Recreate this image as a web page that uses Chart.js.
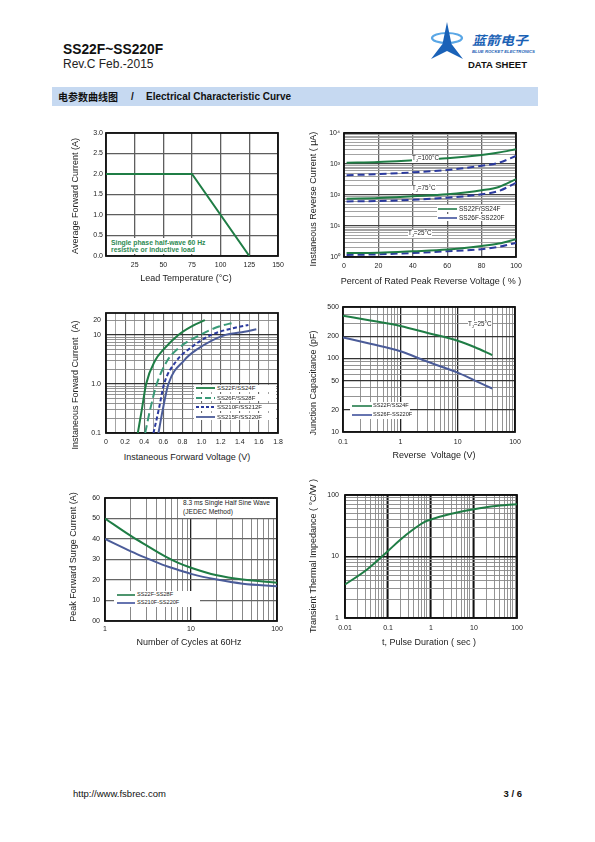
<!DOCTYPE html>
<html>
<head>
<meta charset="utf-8">
<script src="https://cdn.jsdelivr.net/npm/chart.js@4.4.1/dist/chart.umd.min.js"></script>
<style>
  html, body { margin: 0; padding: 0; background: #fff; }
  #page { position: relative; width: 595px; height: 842px; overflow: hidden;
          font-family: "Liberation Sans", Arial, sans-serif; color: #222; }
  .t { position: absolute; white-space: nowrap; line-height: 1; }
  canvas, svg.ov, .box { position: absolute; }
</style>
</head>
<body>
<div id="page"></div>
<script>
// ---- Fig.1 forward current derating
const leadTemp = [0, 75, 125];
const avgCurrent = [2.0, 2.0, 0];
const f1XTicks = [25, 50, 75, 100, 125, 150];
const f1YTicks = [0, 0.5, 1, 1.5, 2, 2.5, 3];
const f1YText = ["0.0", "0.5", "1.0", "1.5", "2.0", "2.5", "3.0"];

// ---- Fig.2 reverse leakage, % of rated voltage
const revPct = [1.5, 20, 40, 60, 80, 90, 100];
const ir100Low = [1100, 1160, 1320, 1530, 1960, 2340, 3000]; // SS22F/SS24F
const ir100High = [437, 470, 537, 638, 880, 1100, 1820]; // SS26F-SS220F
const ir75Low = [76, 80, 91, 105, 142, 182, 324];
const ir75High = [62, 64, 70, 82, 105, 135, 246];
const ir25Low = [1.35, 1.38, 1.53, 1.74, 2.28, 2.72, 3.77];
const ir25High = [1.16, 1.22, 1.35, 1.53, 1.78, 2.12, 2.86];
const f2XTicks = [0, 20, 40, 60, 80, 100];
const f2YTicks = [1, 10, 100, 1000, 10000];
const f2YText = ["10\u2070", "10\u00b9", "10\u00b2", "10\u00b3", "10\u2074"];

// ---- Fig.3 forward characteristics
const vfA = [0.333, 0.375, 0.42, 0.514, 0.6, 0.757, 0.896, 1.035];
const ifA = [0.1, 0.3, 1, 3, 5, 10, 15, 20];
const vfB = [0.41, 0.462, 0.531, 0.642, 0.74, 0.983, 1.19, 1.33];
const ifB = [0.1, 0.3, 1, 3, 5, 10, 15, 17.7];
const vfC = [0.497, 0.552, 0.608, 0.74, 0.86, 1.1, 1.35, 1.49];
const ifC = [0.1, 0.3, 1, 3, 5, 10, 14, 16];
const vfD = [0.549, 0.594, 0.653, 0.816, 0.948, 1.25, 1.4, 1.573];
const ifD = [0.1, 0.3, 1, 3, 5, 10, 11.2, 13];
const f3XTicks = [0, 0.2, 0.4, 0.6, 0.8, 1.0, 1.2, 1.4, 1.6, 1.8];
const f3XText = ["0", "0.2", "0.4", "0.6", "0.8", "1.0", "1.2", "1.4", "1.6", "1.8"];
const f3YTicks = [0.1, 1, 10, 20];
const f3YText = ["0.1", "1.0", "10", "20"];

// ---- Fig.4 junction capacitance
const vr = [0.1, 0.3, 1, 3, 10, 20, 40];
const cjLow = [380, 328, 276, 222, 174, 142, 111];
const cjHigh = [193, 158, 125, 90, 64, 50, 39];
const f4XTicks = [0.1, 1, 10, 100];
const f4YTicks = [10, 20, 50, 100, 200, 500];

// ---- Fig.5 surge current
const cycles = [1, 2, 3, 5, 7, 10, 20, 40, 100];
const ifsmLow = [50, 41.5, 37, 31.5, 28.5, 26, 22.3, 20.2, 18.7];
const ifsmHigh = [40, 34, 30.8, 27, 25, 23, 20.2, 18.2, 17];
const f5XTicks = [1, 10, 100];
const f5YTicks = [0, 10, 20, 30, 40, 50, 60];
const f5YText = ["00", "10", "20", "30", "40", "50", "60"];

// ---- Fig.6 transient thermal impedance
const pulse = [0.01, 0.032, 0.1, 0.19, 0.39, 0.68, 1, 2.8, 10, 28, 100];
const zth = [3.5, 6.1, 12.3, 18.6, 27.7, 36, 40, 49, 58.6, 65.6, 71];
const f6XTicks = [0.01, 0.1, 1, 10, 100];
const f6YTicks = [1, 10, 100];

const FONT = '"Liberation Sans", Arial, sans-serif';
const CJK = '"Noto Sans CJK SC", "Liberation Sans", sans-serif';
const GREEN = "#1f7d45";
const GREEN2 = "#3a9a78";
const BLUE = "#4b5c99";
const BLUE2 = "#2b3a9e";
const page = document.getElementById("page");
Chart.defaults.font.family = FONT;

function near(a, b) {
  return Math.abs(a - b) <= 1e-9 * Math.max(1, Math.abs(b));
}

function logGrid(min, max) {
  let out = [];
  for (let e = Math.floor(Math.log10(min)); e <= Math.ceil(Math.log10(max)); e++) {
    for (let m = 1; m < 10; m++) {
      let v = parseFloat((m * Math.pow(10, e)).toPrecision(10));
      if (v >= min * 0.999999 && v <= max * 1.000001) out.push(v);
    }
  }
  return out;
}

function linGrid(min, max, step) {
  let out = [];
  for (let v = min; v <= max + step / 1000; v += step) out.push(parseFloat(v.toFixed(6)));
  return out;
}

function scale(spec, pos, size, pad) {
  let isMajor = (c) => c.tick && spec.major.some((m) => near(c.tick.value, m));
  let text = spec.tickText || spec.tickVals.map(String);
  return {
    type: spec.type,
    position: pos,
    min: spec.min,
    max: spec.max,
    afterBuildTicks: (s) => {
      s.ticks = spec.grid.map((v) => ({ value: v }));
    },
    afterFit: (s) => {
      if (pos === "bottom") s.height = size;
      else s.width = size;
    },
    border: { display: false },
    grid: {
      drawTicks: false,
      color: (c) => (isMajor(c) ? spec.majorColor : spec.minorColor),
      lineWidth: (c) => (isMajor(c) ? spec.majorWidth : spec.minorWidth),
    },
    ticks: {
      autoSkip: false,
      maxRotation: 0,
      minRotation: 0,
      padding: pad,
      color: "#222",
      font: { family: FONT, size: 7 },
      callback: (v) => {
        let i = spec.tickVals.findIndex((t) => near(v, t));
        return i < 0 ? "" : text[i];
      },
    },
  };
}

const frame = {
  id: "frame",
  beforeDatasetsDraw(chart) {
    let { ctx, chartArea: a } = chart;
    ctx.save();
    ctx.strokeStyle = "#111";
    ctx.lineWidth = 1.8;
    ctx.strokeRect(a.left, a.top, a.right - a.left, a.bottom - a.top);
    ctx.restore();
  },
};

function series(xs, ys, color, dash, smooth) {
  return {
    data: xs.map((x, i) => ({ x: x, y: ys[i] })),
    borderColor: color,
    borderDash: dash || [],
    borderWidth: 2,
    pointRadius: 0,
    fill: false,
    tension: 0,
    cubicInterpolationMode: smooth === false ? "default" : "monotone",
  };
}

function drawChart(plot, xSpec, ySpec, xLabelY, yLabelRight, datasets) {
  let box = { l: plot.x0 - 46, t: plot.y0 - 11, r: plot.x1 + 22, b: plot.y1 + 18 };
  let c = document.createElement("canvas");
  c.width = box.r - box.l;
  c.height = box.b - box.t;
  c.style.left = box.l + "px";
  c.style.top = box.t + "px";
  page.appendChild(c);
  new Chart(c, {
    type: "line",
    data: { datasets: datasets },
    options: {
      responsive: false,
      animation: false,
      devicePixelRatio: 1,
      layout: { padding: { left: 0, top: plot.y0 - box.t, right: box.r - plot.x1, bottom: 0 } },
      plugins: { legend: { display: false }, tooltip: { enabled: false } },
      scales: {
        x: scale(xSpec, "bottom", box.b - plot.y1, xLabelY - plot.y1 - 4.2),
        y: scale(ySpec, "left", plot.x0 - box.l, plot.x0 - yLabelRight),
      },
    },
    plugins: [frame],
  });
}

// ---------- text helpers
function txt(html, x, cy, size, opts) {
  opts = opts || {};
  let d = document.createElement("div");
  d.className = "t";
  d.innerHTML = html;
  d.style.left = x + "px";
  d.style.top = cy - 0.49 * size + "px";
  d.style.fontSize = size + "px";
  if (opts.bold) d.style.fontWeight = "bold";
  if (opts.color) d.style.color = opts.color;
  if (opts.family) d.style.fontFamily = opts.family;
  if (opts.bg) d.style.background = "#fff";
  if (opts.align === "center") d.style.transform = "translateX(-50%)";
  if (opts.align === "right") d.style.transform = "translateX(-100%)";
  page.appendChild(d);
  return d;
}

function xTitle(text, cx, cy) {
  txt(text, cx, cy, 9, { align: "center", color: "#222" });
}

function yTitle(text, cx, cy) {
  let d = txt(text, cx, cy, 9, { color: "#222" });
  d.style.top = cy + "px";
  d.style.transform = "translate(-50%, -50%) rotate(-90deg)";
}

function whiteBox(x, y, w, h) {
  let d = document.createElement("div");
  d.className = "box";
  d.style.cssText += `left:${x}px;top:${y}px;width:${w}px;height:${h}px;background:#fff;`;
  page.appendChild(d);
}

function swatch(x1, x2, y, color, dash) {
  let s = document.createElementNS("http://www.w3.org/2000/svg", "svg");
  s.setAttribute("class", "ov");
  s.setAttribute("width", x2 - x1);
  s.setAttribute("height", 4);
  s.style.left = x1 + "px";
  s.style.top = y - 2 + "px";
  s.innerHTML = `<line x1="0" y1="2" x2="${x2 - x1}" y2="2" stroke="${color}" stroke-width="1.8" stroke-dasharray="${dash || ""}"/>`;
  page.appendChild(s);
}

// ---------- Fig.1
drawChart(
  { x0: 106, y0: 133, x1: 278, y1: 256 },
  { type: "linear", min: 0, max: 150, grid: linGrid(0, 150, 25), tickVals: f1XTicks,
    major: [], majorColor: "#555", minorColor: "#5e5e5e", majorWidth: 1.3, minorWidth: 1.3 },
  { type: "linear", min: 0, max: 3, grid: linGrid(0, 3, 0.5), tickVals: f1YTicks, tickText: f1YText,
    major: [], majorColor: "#555", minorColor: "#5e5e5e", majorWidth: 1.3, minorWidth: 1.3 },
  265, 103,
  [series(leadTemp, avgCurrent, GREEN, null, false)]
);

// ---------- Fig.2
drawChart(
  { x0: 344, y0: 133, x1: 516, y1: 257 },
  { type: "linear", min: 0, max: 100, grid: linGrid(0, 100, 20), tickVals: f2XTicks,
    major: [], majorColor: "#555", minorColor: "#666", majorWidth: 1.3, minorWidth: 1.3 },
  { type: "logarithmic", min: 1, max: 10000, grid: logGrid(1, 10000), tickVals: f2YTicks, tickText: f2YText,
    major: f2YTicks, majorColor: "#444", minorColor: "#999", majorWidth: 1.3, minorWidth: 0.9 },
  266, 340,
  [
    series(revPct, ir100Low, GREEN),
    series(revPct, ir100High, BLUE2, [7, 4]),
    series(revPct, ir75Low, GREEN),
    series(revPct, ir75High, BLUE2, [7, 4]),
    series(revPct, ir25Low, GREEN),
    series(revPct, ir25High, BLUE2, [7, 4]),
  ]
);

// ---------- Fig.3
drawChart(
  { x0: 106, y0: 313, x1: 278, y1: 433 },
  { type: "linear", min: 0, max: 1.8, grid: linGrid(0, 1.8, 0.1), tickVals: f3XTicks, tickText: f3XText,
    major: f3XTicks, majorColor: "#666", minorColor: "#9a9a9a", majorWidth: 1.1, minorWidth: 0.9 },
  { type: "logarithmic", min: 0.1, max: 28, grid: logGrid(0.1, 28), tickVals: f3YTicks, tickText: f3YText,
    major: [0.1, 1, 10], majorColor: "#333", minorColor: "#888", majorWidth: 1.3, minorWidth: 0.9 },
  442, 101,
  [
    series(vfA, ifA, GREEN),
    series(vfB, ifB, GREEN2, [8, 4]),
    series(vfC, ifC, BLUE2, [4, 2.5]),
    series(vfD, ifD, BLUE),
  ]
);

// ---------- Fig.4
drawChart(
  { x0: 343, y0: 307, x1: 515, y1: 432 },
  { type: "logarithmic", min: 0.1, max: 100, grid: logGrid(0.1, 100), tickVals: f4XTicks,
    major: f4XTicks, majorColor: "#222", minorColor: "#888", majorWidth: 1.3, minorWidth: 0.9 },
  { type: "logarithmic", min: 10, max: 500, grid: logGrid(10, 500), tickVals: f4YTicks,
    major: f4YTicks, majorColor: "#333", minorColor: "#888", majorWidth: 1.2, minorWidth: 0.9 },
  442, 339,
  [series(vr, cjLow, GREEN), series(vr, cjHigh, BLUE)]
);

// ---------- Fig.5
drawChart(
  { x0: 105, y0: 498, x1: 277, y1: 621 },
  { type: "logarithmic", min: 1, max: 100, grid: logGrid(1, 100), tickVals: f5XTicks,
    major: f5XTicks, majorColor: "#222", minorColor: "#888", majorWidth: 1.3, minorWidth: 1 },
  { type: "linear", min: 0, max: 60, grid: linGrid(0, 60, 10), tickVals: f5YTicks, tickText: f5YText,
    major: [], majorColor: "#555", minorColor: "#666", majorWidth: 1.2, minorWidth: 1.2 },
  629, 100,
  [series(cycles, ifsmLow, GREEN), series(cycles, ifsmHigh, BLUE)]
);

// ---------- Fig.6
drawChart(
  { x0: 345, y0: 495, x1: 517, y1: 618 },
  { type: "logarithmic", min: 0.01, max: 100, grid: logGrid(0.01, 100), tickVals: f6XTicks,
    major: f6XTicks, majorColor: "#111", minorColor: "#888", majorWidth: 1.6, minorWidth: 0.9 },
  { type: "logarithmic", min: 1, max: 100, grid: logGrid(1, 100), tickVals: f6YTicks,
    major: f6YTicks, majorColor: "#111", minorColor: "#888", majorWidth: 1.6, minorWidth: 0.9 },
  628, 339,
  [series(pulse, zth, GREEN)]
);

// ---------- header
txt("SS22F~SS220F", 63, 50, 13.8, { bold: true, color: "#111" });
txt("Rev.C Feb.-2015", 63, 63.5, 12, { color: "#222" });
txt("DATA SHEET", 468, 65, 9.5, { bold: true, color: "#111" });
let logo = document.createElementNS("http://www.w3.org/2000/svg", "svg");
logo.setAttribute("class", "ov");
logo.setAttribute("width", 120);
logo.setAttribute("height", 40);
logo.style.left = "425px";
logo.style.top = "20px";
logo.innerHTML =
  '<ellipse cx="22" cy="18" rx="15" ry="5" fill="none" stroke="#5aa7e6" stroke-width="2.2"/>' +
  '<path d="M22 2 L26.5 24 L38 39 L22 31 L6 39 L17.5 24 Z" fill="#1a62b8"/>' +
  '<text x="47" y="25" font-size="12.5" font-weight="bold" font-style="italic" fill="#1b62b5" textLength="56" lengthAdjust="spacingAndGlyphs" style="font-family:' + CJK.replace(/"/g, "'") + '">蓝箭电子</text>' +
  '<text x="47" y="33" font-size="3.6" font-weight="bold" font-style="italic" fill="#1b62b5" textLength="63" lengthAdjust="spacingAndGlyphs">BLUE ROCKET ELECTRONICS</text>';
page.appendChild(logo);

let band = document.createElement("div");
band.className = "box";
band.style.cssText += "left:52px;top:87px;width:486px;height:19px;background:#c6d9f1;";
page.appendChild(band);
txt("电参数曲线图", 58, 97, 10, { bold: true, family: CJK, color: "#111" });
txt("/", 131, 97, 10, { bold: true, color: "#111" });
txt("Electrical Characteristic Curve", 146, 97, 10, { bold: true, color: "#111" });

// ---------- axis titles
xTitle("Lead Temperature (°C)", 186, 278);
yTitle("Average Forward Current (A)", 75, 196);
xTitle("Percent of Rated Peak Reverse Voltage ( % )", 431, 281);
yTitle("Instaneous Reverse Current ( μA)", 313, 199);
xTitle("Instaneous Forward Voltage (V)", 187, 457);
yTitle("Instaneous Forward Current &nbsp;(A)", 75, 385);
xTitle("Reverse &nbsp;Voltage (V)", 434, 455);
yTitle("Junction Capacitance (pF)", 313, 383);
xTitle("Number of Cycles at 60Hz", 189, 642);
yTitle("Peak Forward Surge Current (A)", 73, 557);
xTitle("t, Pulse Duration ( sec )", 429, 642);
yTitle("Transient Thermal Impedance ( °C/W )", 313, 556);

// ---------- annotations & legends
whiteBox(108, 238, 99, 16);
txt("Single phase half-wave 60 Hz", 111, 243, 6.8, { bold: true, color: "#2d8a52" });
txt("resistive or inductive load", 111, 250, 6.8, { bold: true, color: "#2d8a52" });

txt("T<sub style='font-size:4px'>J</sub>=100°C", 412, 158, 6.3, { bg: true });
txt("T<sub style='font-size:4px'>J</sub>=75°C", 412, 188, 6.3, { bg: true });
txt("T<sub style='font-size:4px'>J</sub>=25°C", 408, 233, 6.3, { bg: true });
whiteBox(437, 205, 78, 7);
whiteBox(437, 214, 78, 7);
swatch(438, 457, 209, "#3a8a5e");
swatch(438, 457, 218, "#5565a8");
txt("SS22F/SS24F", 459, 209, 6.5);
txt("SS26F-SS220F", 459, 218, 6.5);

let f3Legend = [
  ["SS22F/SS24F", GREEN, ""],
  ["SS26F/SS28F", GREEN2, "6 3"],
  ["SS210F/SS212F", BLUE2, "3 2"],
  ["SS215F/SS220F", BLUE, ""],
];
f3Legend.forEach((row, i) => {
  let y = 388.3 + i * 9.5;
  whiteBox(194, y - 3.5, 82, 7);
  swatch(196, 215, y, row[1], row[2]);
  txt(row[0], 217, y, 6);
});

txt("T<sub style='font-size:4px'>J</sub>=25°C", 468, 324, 6.3, { bg: true });
whiteBox(350, 402, 60, 17);
swatch(352, 372, 406, "#3a8a5e");
swatch(352, 372, 415, "#5565a8");
txt("SS22F/SS24F", 373, 406, 5.6);
txt("SS26F-SS220F", 373, 415, 5.6);

whiteBox(179, 499, 97, 19);
txt("8.3 ms Single Half Sine Wave", 183, 503, 6.6);
txt("(JEDEC Method)", 183, 512, 6.6);
whiteBox(114, 591, 86, 16);
swatch(117, 135, 595, "#3a8a5e");
swatch(117, 135, 603, "#5565a8");
txt("SS22F-SS28F", 137, 595, 5.6);
txt("SS210F-SS220F", 137, 603, 5.6);

// ---------- footer
txt("http://www.fsbrec.com", 73, 794, 9.5, { color: "#111" });
txt("3 / 6", 522, 794, 9.5, { bold: true, align: "right", color: "#111" });
</script>
</body>
</html>
